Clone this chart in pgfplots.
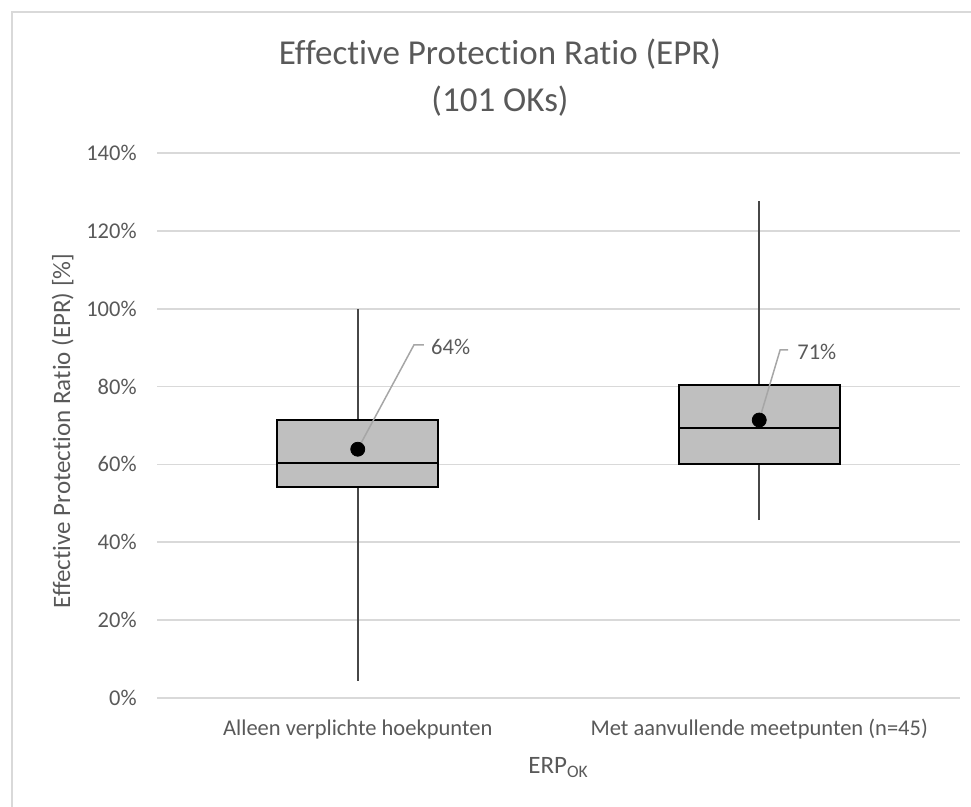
\documentclass[border=0pt]{standalone}
\usepackage{fontspec}
\setmainfont{Carlito}[Ligatures={NoCommon,NoRare,NoDiscretionary,NoContextual}]
\usepackage{pgfplots}
\pgfplotsset{compat=1.18}
\definecolor{txt}{HTML}{595959}
\definecolor{grd}{HTML}{D9D9D9}
\definecolor{boxfill}{HTML}{BFBFBF}
\definecolor{whisk}{HTML}{474747}
\definecolor{lead}{HTML}{A6A6A6}
\begin{document}
\begin{tikzpicture}
\path[use as bounding box] (0pt,0pt) rectangle (485.5pt,403.5pt);
\draw[grd, line width=0.75pt] (6pt,0pt) -- (6pt,397.5pt) -- (485.5pt,397.5pt);
\begin{axis}[at={(78.5pt,54.5pt)}, anchor=south west, scale only axis,
  width=401.5pt, height=272.5pt,
  xmin=-0.5, xmax=1.5, ymin=0, ymax=140,
  xtick={0,1},
  xticklabels={Alleen verplichte hoekpunten, Met aanvullende meetpunten (n=45)},
  ytick={0,20,40,60,80,100,120,140},
  yticklabels={0\%,20\%,40\%,60\%,80\%,100\%,120\%,140\%},
  axis line style={draw=none}, major tick style={draw=none},
  ymajorgrids, major grid style={grd, line width=0.9pt},
  ticklabel style={font=\fontsize{11.25}{13.5}\selectfont, text=txt},
  xticklabel style={anchor=base, yshift=-19pt, inner sep=0pt},
  yticklabel style={anchor=east, xshift=-10pt, inner sep=0pt},
  clip=false,
]
% whiskers
\addplot[whisk, line width=1pt] coordinates {(0,4.4) (0,54.1)};
\addplot[whisk, line width=1pt] coordinates {(0,71.4) (0,100)};
\addplot[whisk, line width=1pt] coordinates {(1,45.7) (1,60.1)};
\addplot[whisk, line width=1pt] coordinates {(1,80.4) (1,127.7)};
% boxes (lower quartile to upper quartile)
\addplot[fill=boxfill, draw=black, line width=1pt] coordinates {(-0.2,54.1) (0.2,54.1) (0.2,71.4) (-0.2,71.4)} -- cycle;
\addplot[fill=boxfill, draw=black, line width=1pt] coordinates {(0.8,60.1) (1.2,60.1) (1.2,80.4) (0.8,80.4)} -- cycle;
% medians
\addplot[black, line width=1pt] coordinates {(-0.2,60.3) (0.2,60.3)};
\addplot[black, line width=1pt] coordinates {(0.8,69.3) (1.2,69.3)};
% leader lines
\draw[lead, line width=0.75pt] (axis cs:0,63.9) -- (axis cs:0.140,90.7) -- (axis cs:0.165,90.7);
\draw[lead, line width=0.75pt] (axis cs:1,71.4) -- (axis cs:1.052,89.4) -- (axis cs:1.072,89.4);
% means
\addplot[only marks, mark=*, mark size=3.5pt, black] coordinates {(0,63.9) (1,71.4)};
\node[anchor=west, inner sep=0pt, font=\fontsize{11.25}{13.5}\selectfont, text=txt] at (axis cs:0.182,90.2) {64\%};
\node[anchor=west, inner sep=0pt, font=\fontsize{11.25}{13.5}\selectfont, text=txt] at (axis cs:1.094,88.9) {71\%};
\end{axis}
\node[anchor=base, inner sep=0pt, font=\fontsize{17.5}{21}\selectfont, text=txt] at (250pt,371pt) {Effective Protection Ratio (EPR)};
\node[anchor=base, inner sep=0pt, font=\fontsize{17.5}{21}\selectfont, text=txt] at (250pt,347.5pt) {(101 OKs)};
\node[rotate=90, anchor=base, inner sep=0pt, font=\fontsize{12.5}{15}\selectfont, text=txt] at (35pt,188pt) {Effective Protection Ratio (EPR) [\%]};
\node[anchor=base, inner sep=0pt, font=\fontsize{12.5}{15}\selectfont, text=txt] at (279.25pt,16.5pt) {ERP\textsubscript{OK}};
\end{tikzpicture}
\end{document}
